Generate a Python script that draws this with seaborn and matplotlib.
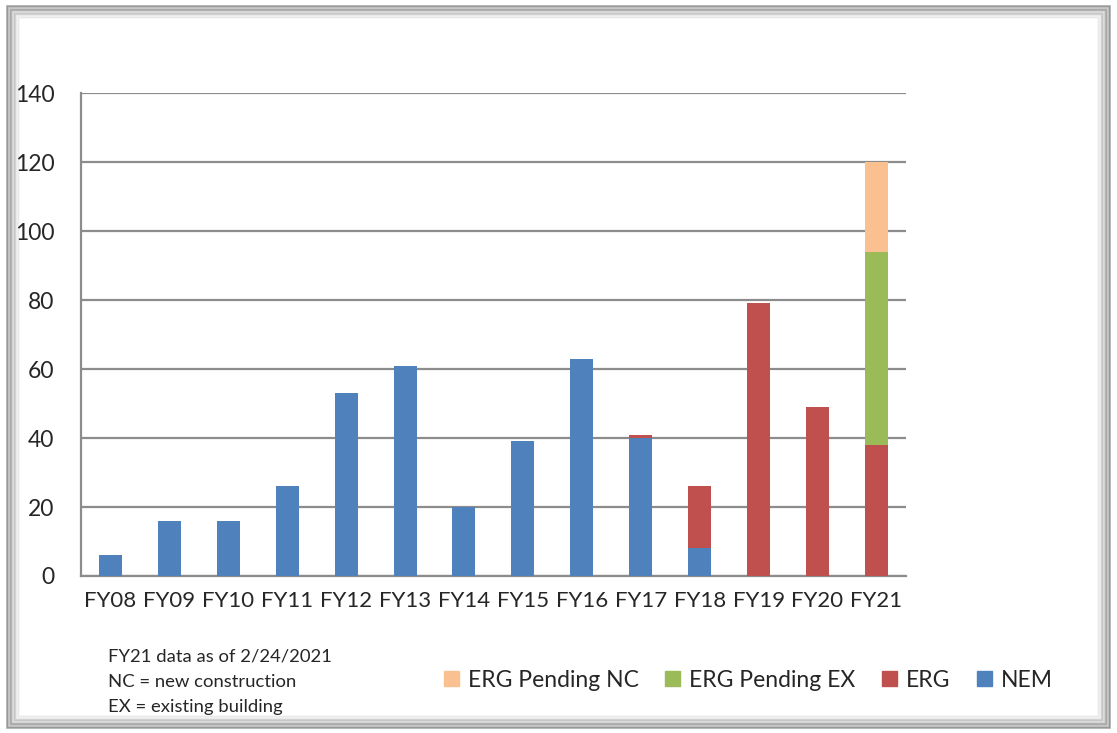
import numpy as np
import pandas as pd
import matplotlib
matplotlib.use("Agg")
import matplotlib.pyplot as plt
import seaborn as sns
from matplotlib.patches import Patch, Rectangle

years = ["FY08", "FY09", "FY10", "FY11", "FY12", "FY13", "FY14",
         "FY15", "FY16", "FY17", "FY18", "FY19", "FY20", "FY21"]
nem = [6, 16, 16, 26, 53, 61, 20, 39, 63, 40, 8, 0, 0, 0]
erg = [0, 0, 0, 0, 0, 0, 0, 0, 0, 1, 18, 79, 49, 38]
erg_pending_ex = [0, 0, 0, 0, 0, 0, 0, 0, 0, 0, 0, 0, 0, 56]
erg_pending_nc = [0, 0, 0, 0, 0, 0, 0, 0, 0, 0, 0, 0, 0, 26]

sns.set_style("white")
plt.rcParams['font.family'] = ['Lato', 'DejaVu Sans']

df = pd.DataFrame({"year": years, "NEM": nem, "ERG": erg,
                   "EX": erg_pending_ex, "NC": erg_pending_nc})
# cumulative heights for stacking
df["c_nem"] = df["NEM"]
df["c_erg"] = df["c_nem"] + df["ERG"]
df["c_ex"] = df["c_erg"] + df["EX"]
df["c_nc"] = df["c_ex"] + df["NC"]

colors = {"NEM": "#4F81BD", "ERG": "#C0504D", "EX": "#9BBB59", "NC": "#FAC090"}

fig = plt.figure(figsize=(11.17, 7.33), dpi=100)
ax = fig.add_axes([0.0725, 0.2142, 0.7385, 0.6588])

for col, key in [("c_nc", "NC"), ("c_ex", "EX"), ("c_erg", "ERG"), ("c_nem", "NEM")]:
    sns.barplot(data=df, x="year", y=col, color=colors[key], width=0.39,
                saturation=1, linewidth=0, ax=ax, zorder=3)

ax.set_ylim(0, 140)
ax.set_xlim(-0.5, 13.5)
ax.set_yticks(range(0, 141, 20))
ax.set_xlabel("")
ax.set_ylabel("")
ax.yaxis.grid(True, color="#8c8c8c", linewidth=1.6, zorder=0)
ax.set_axisbelow(True)
for s in ["top", "right"]:
    ax.spines[s].set_visible(False)
ax.spines["left"].set_color("#8c8c8c")
ax.spines["left"].set_linewidth(1.6)
ax.spines["bottom"].set_color("#8c8c8c")
ax.spines["bottom"].set_linewidth(1.6)
ax.tick_params(axis="y", length=0, pad=19, labelsize=16.5)
ax.tick_params(axis="x", length=0, pad=11, labelsize=16)

handles = [Patch(color=colors["NC"], label="ERG Pending NC"),
           Patch(color=colors["EX"], label="ERG Pending EX"),
           Patch(color=colors["ERG"], label="ERG"),
           Patch(color=colors["NEM"], label="NEM")]
fig.legend(handles=handles, loc="center", bbox_to_anchor=(0.670, 0.072), ncol=4,
           frameon=False, fontsize=16.5, handlelength=0.65, handleheight=0.65,
           handletextpad=0.4, columnspacing=1.15)

notes = ["FY21 data as of 2/24/2021", "NC = new construction", "EX = existing building"]
for i, t in enumerate(notes):
    fig.text(0.097, 1 - (657 + 25 * i) / 733, t, fontsize=13.3, va="center", ha="left")

# frame with soft shadow like the original
for k in range(10):
    a = 0.6 * (1 - k / 10)
    fig.patches.append(Rectangle((7 / 1117 + k * 0.0012, 5 / 733 + k * 0.0018),
                                 (1110 - 7) / 1117 - k * 0.0024, (727 - 5) / 733 - k * 0.0036,
                                 transform=fig.transFigure, fill=False,
                                 edgecolor=(0.45, 0.45, 0.45, a), linewidth=1.2))

fig.savefig("out.png", dpi=100)
